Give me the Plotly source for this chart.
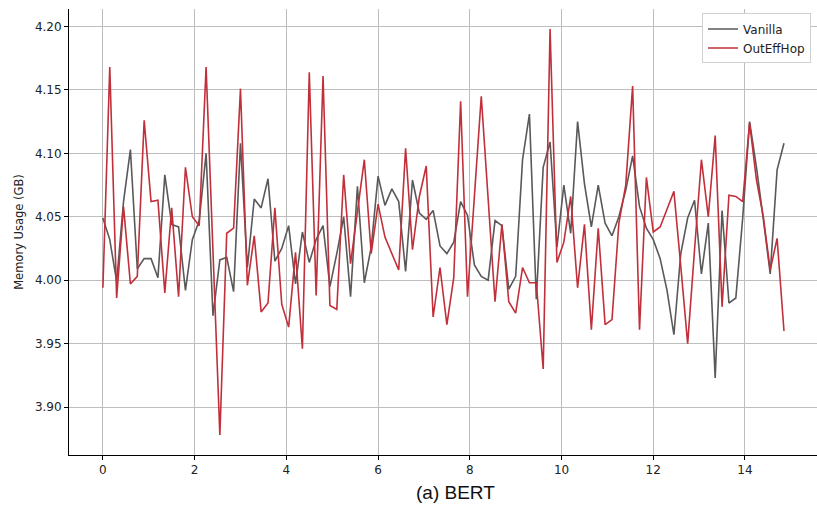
import plotly.graph_objects as go

# Sampling steps (0.15 apart) and memory readings in GB
step_size = 0.15
n_steps = 100
steps = [round(i * step_size, 2) for i in range(n_steps)]

vanilla = [
    4.049, 4.032, 3.999, 4.062, 4.103, 4.009, 4.017, 4.017, 4.002, 4.083,
    4.044, 4.042, 3.992, 4.032, 4.047, 4.100, 3.972, 4.016, 4.018, 3.991,
    4.108, 4.010, 4.064, 4.057, 4.080, 4.015, 4.025, 4.043, 3.997, 4.038,
    4.014, 4.032, 4.043, 3.995, 4.021, 4.050, 3.987, 4.074, 3.998, 4.026,
    4.082, 4.059, 4.072, 4.062, 4.007, 4.079, 4.053, 4.048, 4.055, 4.027,
    4.021, 4.030, 4.062, 4.051, 4.012, 4.003, 4.000, 4.047, 4.043, 3.993,
    4.003, 4.095, 4.131, 3.985, 4.089, 4.109, 4.026, 4.075, 4.037, 4.125,
    4.076, 4.042, 4.075, 4.045, 4.035, 4.050, 4.071, 4.098, 4.058, 4.041,
    4.032, 4.017, 3.992, 3.957, 4.021, 4.049, 4.063, 4.005, 4.045, 3.923,
    4.055, 3.982, 3.986, 4.049, 4.125, 4.089, 4.048, 4.005, 4.087, 4.108,
]

outeffhop = [
    3.994, 4.168, 3.986, 4.058, 3.997, 4.003, 4.126, 4.062, 4.063, 3.990,
    4.057, 3.987, 4.089, 4.050, 4.043, 4.168, 4.023, 3.878, 4.037, 4.041,
    4.151, 3.996, 4.035, 3.975, 3.982, 4.057, 3.981, 3.963, 4.022, 3.946,
    4.164, 3.988, 4.161, 3.980, 3.977, 4.083, 4.013, 4.052, 4.095, 4.021,
    4.060, 4.034, 4.021, 4.008, 4.104, 4.024, 4.066, 4.090, 3.971, 4.010,
    3.965, 4.002, 4.141, 3.987, 4.066, 4.145, 4.064, 3.983, 4.044, 3.983,
    3.974, 4.010, 3.998, 3.998, 3.930, 4.198, 4.014, 4.030, 4.066, 3.994,
    4.044, 3.961, 4.041, 3.965, 3.969, 4.045, 4.075, 4.153, 3.961, 4.081,
    4.038, 4.042, 4.056, 4.070, 4.011, 3.950, 4.024, 4.095, 4.050, 4.114,
    3.979, 4.067, 4.066, 4.062, 4.124, 4.079, 4.050, 4.008, 4.033, 3.960,
]

x_ticks = [0, 2, 4, 6, 8, 10, 12, 14]
y_ticks = [3.90, 3.95, 4.00, 4.05, 4.10, 4.15, 4.20]

fig = go.Figure()
fig.add_trace(go.Scatter(
    x=steps, y=vanilla, mode="lines", name="Vanilla",
    line=dict(color="#595959", width=1.6),
))
fig.add_trace(go.Scatter(
    x=steps, y=outeffhop, mode="lines", name="OutEffHop",
    line=dict(color="#c1303a", width=1.6),
))

axis_font = dict(family="DejaVu Sans", size=12, color="#222222")

fig.update_layout(
    width=817, height=508,
    margin=dict(l=69, r=0, t=9, b=53),
    paper_bgcolor="white", plot_bgcolor="white",
    showlegend=True,
    legend=dict(
        x=0.992, y=0.99, xanchor="right", yanchor="top",
        bgcolor="white", bordercolor="#d0d0d0", borderwidth=1,
        font=dict(family="DejaVu Sans", size=12, color="#222222"),
        tracegroupgap=0,
    ),
    xaxis=dict(
        range=[-0.739, 15.57],
        tickmode="array", tickvals=x_ticks,
        ticks="outside", ticklen=4, tickcolor="black",
        showline=True, linecolor="black", linewidth=1,
        showgrid=True, gridcolor="#bdbdbd", gridwidth=1,
        zeroline=False, tickfont=axis_font,
    ),
    yaxis=dict(
        range=[3.8622, 4.2138],
        tickmode="array", tickvals=y_ticks, tickformat=".2f",
        ticks="outside", ticklen=4, tickcolor="black",
        showline=True, linecolor="black", linewidth=1,
        showgrid=True, gridcolor="#bdbdbd", gridwidth=1,
        zeroline=False, tickfont=axis_font,
        title=dict(text="Memory Usage (GB)", standoff=8,
                   font=dict(family="DejaVu Sans", size=11.5, color="#222222")),
    ),
)

fig.add_annotation(
    text="(a) BERT", xref="paper", yref="paper",
    x=0.517, y=-0.083, xanchor="center", yanchor="middle",
    showarrow=False,
    font=dict(family="Liberation Sans", size=19, color="#111111"),
)

fig.write_html("out.html")
